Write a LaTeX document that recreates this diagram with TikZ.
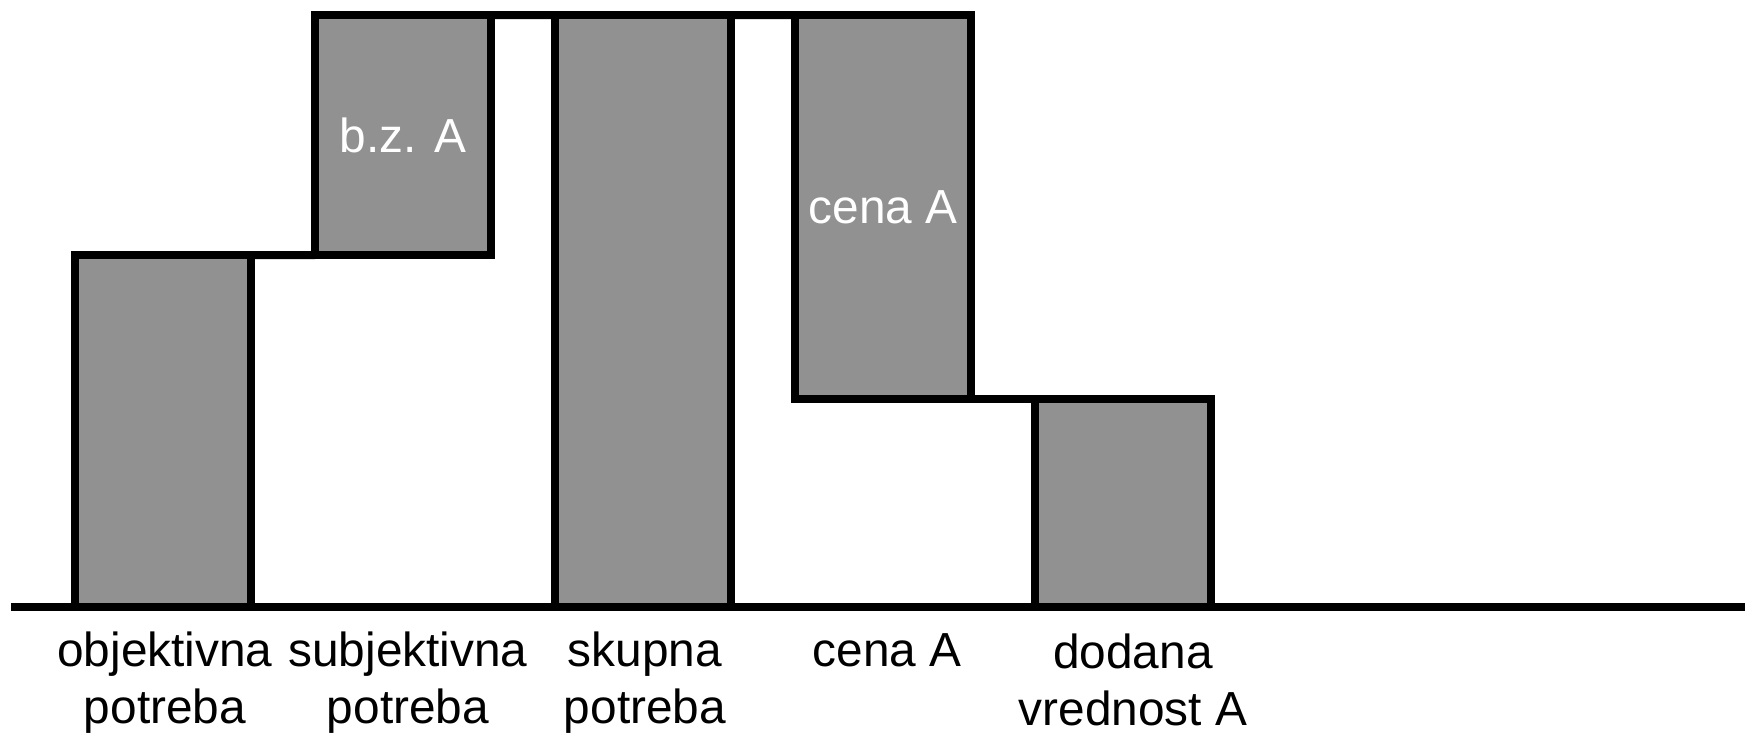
\documentclass[tikz,border=0pt]{standalone}
\usepackage{fontspec}
\setmainfont{Liberation Sans}
\usepackage{tikz}
\usetikzlibrary{positioning}
\definecolor{barfill}{RGB}{145,145,145}

\begin{document}
\begin{tikzpicture}[
  bar/.style={draw=black, fill=barfill, line width=0.08cm, minimum width=1.76cm,
    inner sep=0pt, outer sep=0pt, anchor=south west, text=white,
    font=\fontsize{13.6}{16.1}\selectfont},
  link/.style={draw=black, line width=0.08cm},
  lbl/.style={anchor=base, align=center, inner sep=0pt,
    font=\fontsize{13.6}{16.1}\selectfont}
]
\useasboundingbox[fill=white] (0,0) rectangle (17.45,7.32);
\node[bar, minimum height=3.52cm] (obj) at (0.75,1.25) {};
\node[bar, minimum height=2.40cm] (subj) at (3.15,4.77) {b.z. A};
\node[bar, minimum height=5.92cm] (skup) at (5.55,1.25) {};
\node[bar, minimum height=3.84cm] (cena) at (7.95,3.33) {cena A};
\node[bar, minimum height=2.08cm] (dod) at (10.35,1.25) {};
\coordinate (axl) at (0.11,1.25);
\coordinate (axr) at (17.45,1.25);
\draw[link] (axl) -- (axr);
\draw[link] (obj.north east) -- (subj.south west);
\draw[link] (subj.north east) -- (skup.north west);
\draw[link] (skup.north east) -- (cena.north west);
\draw[link] (cena.south east) -- (dod.north west);
\node[lbl] (objl) at (1.65,0.09) {objektivna\\potreba};
\node[lbl] (subjl) at (4.08,0.09) {subjektivna\\potreba};
\node[lbl] (skupl) at (6.45,0.09) {skupna\\potreba};
\node[lbl] (cenal) at (8.87,0.66) {cena A};
\node[lbl] (dodl) at (11.33,0.07) {dodana\\vrednost A};
\end{tikzpicture}
\end{document}
